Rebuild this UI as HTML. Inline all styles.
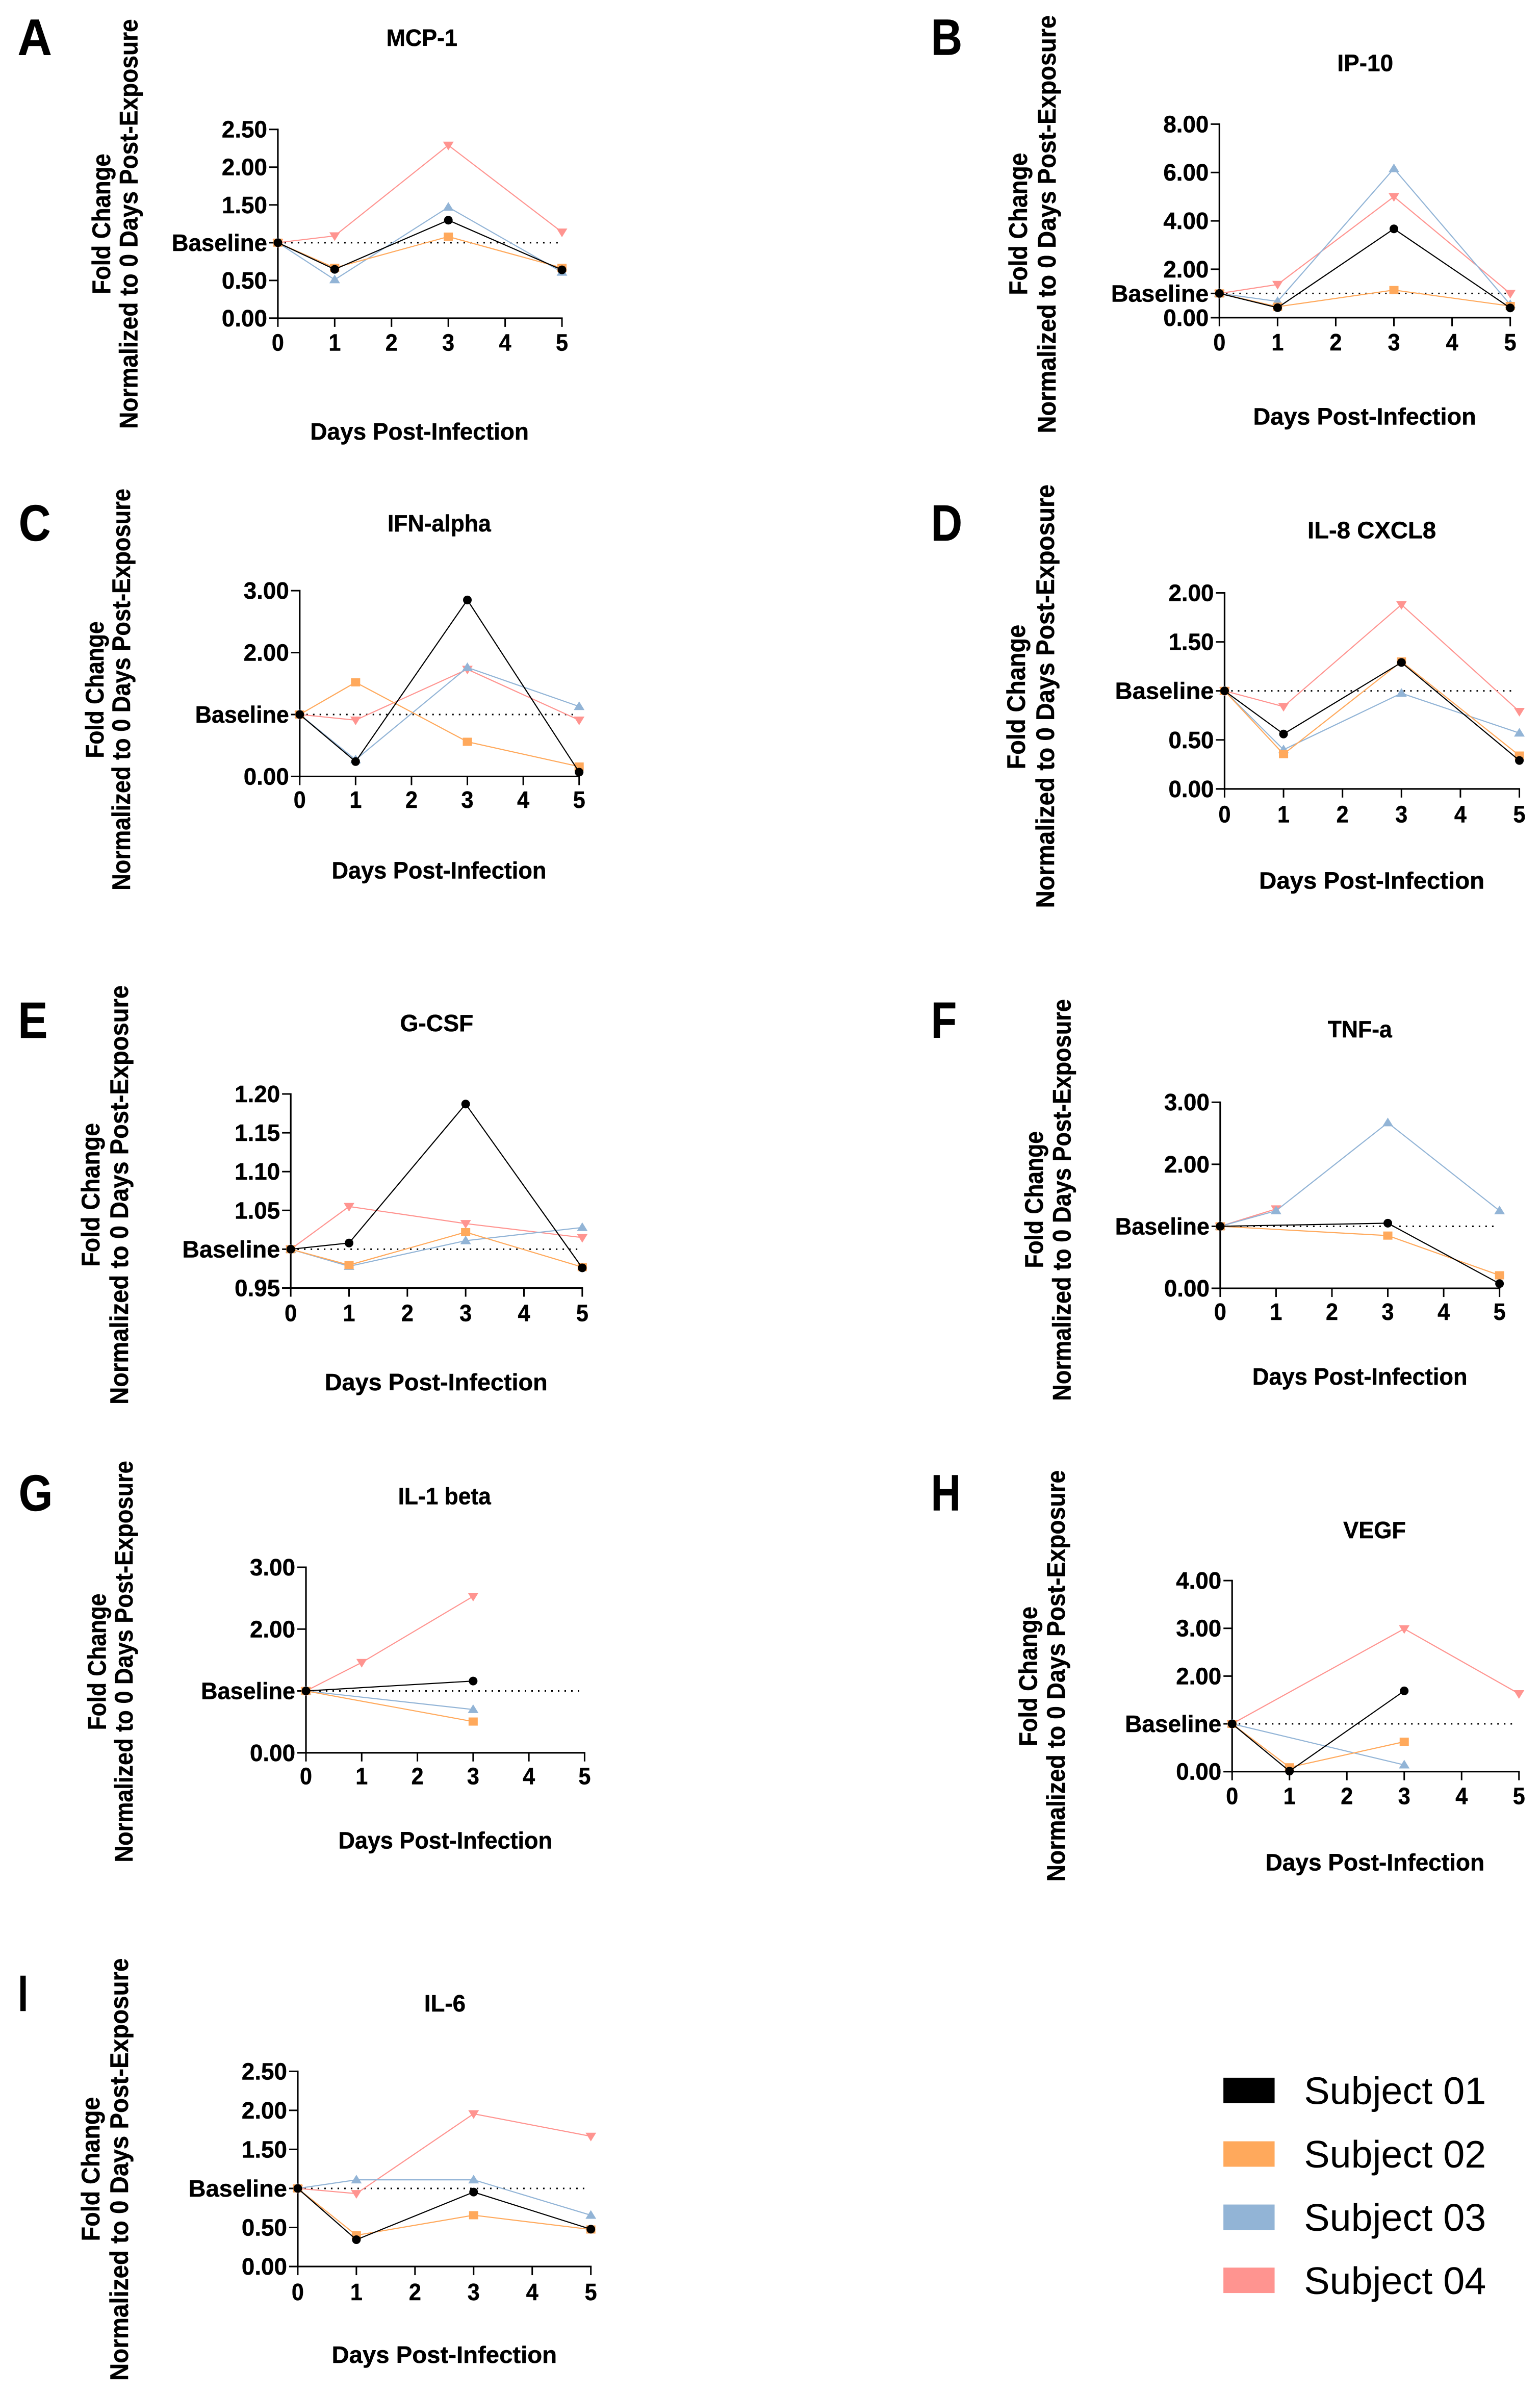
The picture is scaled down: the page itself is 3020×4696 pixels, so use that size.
<!DOCTYPE html>
<html lang="en">
<head>
<meta charset="utf-8">
<title>Fold change per cytokine by subject</title>
<style>
html,body{margin:0;padding:0;background:#fff;overflow:hidden;}
svg{display:block;}
text{font-family:"Liberation Sans",sans-serif;fill:#000;}
.b{font-weight:bold;stroke:#000;stroke-width:.5px;}
</style>
</head>
<body>
<svg id="figure" xmlns="http://www.w3.org/2000/svg" width="3020" height="4696" viewBox="0 0 3020 4696"></svg>
<script>
// ---------- shared categories ----------
const xTickLabels = [0, 1, 2, 3, 4, 5];
const measuredDays = [0, 1, 3, 5];
const subjectNames = ["Subject 01", "Subject 02", "Subject 03", "Subject 04"];
const baselineValue = 1;

// ---------- A: MCP-1 ----------
const mcp1YTicks = [0, 0.5, 1.5, 2, 2.5];
const mcp1Subject01 = [1, 0.647, 1.298, 0.64];
const mcp1Subject02 = [1, 0.667, 1.08, 0.667];
const mcp1Subject03 = [1, 0.51, 1.47, 0.61];
const mcp1Subject04 = [1, 1.09, 2.29, 1.14];

// ---------- B: IP-10 ----------
const ip10YTicks = [0, 2, 4, 6, 8];
const ip10Subject01 = [1, 0.41, 3.67, 0.40];
const ip10Subject02 = [1, 0.45, 1.14, 0.48];
const ip10Subject03 = [1, 0.67, 6.16, 0.54];
const ip10Subject04 = [1, 1.37, 5.0, 1.0];

// ---------- C: IFN-alpha ----------
const ifnYTicks = [0, 2, 3];
const ifnSubject01 = [1, 0.24, 2.85, 0.07];
const ifnSubject02 = [1, 1.52, 0.56, 0.16];
const ifnSubject03 = [1, 0.27, 1.76, 1.13];
const ifnSubject04 = [1, 0.91, 1.73, 0.91];

// ---------- D: IL-8 CXCL8 ----------
const il8YTicks = [0, 0.5, 1.5, 2];
const il8Subject01 = [1, 0.56, 1.29, 0.29];
const il8Subject02 = [1, 0.355, 1.30, 0.34];
const il8Subject03 = [1, 0.40, 0.976, 0.57];
const il8Subject04 = [1, 0.84, 1.88, 0.79];

// ---------- E: G-CSF ----------
const gcsfYTicks = [0.95, 1.05, 1.1, 1.15, 1.2];
const gcsfSubject01 = [1, 1.008, 1.187, 0.976];
const gcsfSubject02 = [1, 0.9796, 1.022, 0.977];
const gcsfSubject03 = [1, 0.978, 1.011, 1.028];
const gcsfSubject04 = [1, 1.055, 1.033, 1.015];

// ---------- F: TNF-a ----------
const tnfYTicks = [0, 2, 3];
const tnfSubject01 = [1, null, 1.05, 0.076];
const tnfSubject02 = [1, null, 0.85, 0.21];
const tnfSubject03 = [1, 1.25, 2.67, 1.25];
const tnfSubject04 = [1, 1.28, null, null];

// ---------- G: IL-1 beta ----------
const il1YTicks = [0, 2, 3];
const il1Subject01 = [1, null, 1.16, null];
const il1Subject02 = [1, null, 0.505, null];
const il1Subject03 = [1, null, 0.70, null];
const il1Subject04 = [1, 1.46, 2.53, null];

// ---------- H: VEGF ----------
const vegfYTicks = [0, 2, 3, 4];
const vegfSubject01 = [1, 0.01, 1.69, null];
const vegfSubject02 = [1, 0.09, 0.625, null];
const vegfSubject03 = [1, null, 0.14, null];
const vegfSubject04 = [1, null, 2.99, 1.63];

// ---------- I: IL-6 ----------
const il6YTicks = [0, 0.5, 1.5, 2, 2.5];
const il6Subject01 = [1, 0.343, 0.953, 0.478];
const il6Subject02 = [1, 0.40, 0.657, 0.474];
const il6Subject03 = [1, 1.11, 1.11, 0.657];
const il6Subject04 = [1, 0.934, 1.956, 1.668];

// ---------- styling & layout (separate from data) ----------
const subjectColors = ["#000000", "#FFA95C", "#92B4D6", "#FF9490"];
const subjectShapes = ["circle", "square", "triangle-up", "triangle-down"];
const drawOrder = [3, 2, 1, 0];

const KX1 = 1200 / 1568, KX2 = 1220 / 1568;
const panels = [
 {id:"a",letter:"A",title:"MCP-1",ox:0,oy:0,kx:KX1,ky:900/1568,x0:712,x5:1440,yT:442,y0:1087,vMin:0,vMax:2.5,ticks:mcp1YTicks,
  series:[mcp1Subject01,mcp1Subject02,mcp1Subject03,mcp1Subject04],
  tB:[990,1172,157],xB:[795,1355,1502],num:1198,lt:[45,133,187],fc:[282,525,1005],nm:[352,65,1465],bl:440},
 {id:"b",letter:"B",title:"IP-10",ox:1800,oy:0,kx:KX2,ky:900/1568,x0:760,x5:1493,yT:424,y0:1085,vMin:0,vMax:8,ticks:ip10YTicks,
  series:[ip10Subject01,ip10Subject02,ip10Subject03,ip10Subject04],
  tB:[1057,1198,243],xB:[845,1407,1450],num:1197,lt:[33,112,187],fc:[275,522,1008],nm:[347,52,1480],bl:487},
 {id:"c",letter:"C",title:"IFN-alpha",ox:0,oy:950,kx:KX1,ky:850/1568,x0:768,x5:1484,yT:384,y0:1056,vMin:0,vMax:3,ticks:ifnYTicks,
  series:[ifnSubject01,ifnSubject02,ifnSubject03,ifnSubject04],
  tB:[993,1258,170],xB:[850,1400,1425],num:1170,lt:[48,130,203],fc:[265,495,990],nm:[333,15,1468],bl:500},
 {id:"d",letter:"D",title:"IL-8 CXCL8",ox:1800,oy:950,kx:KX2,ky:850/1568,x0:773,x5:1516,yT:392,y0:1101,vMin:0,vMax:2,ticks:il8YTicks,
  series:[il8Subject01,il8Subject02,il8Subject03,il8Subject04],
  tB:[982,1306,195],xB:[860,1428,1462],num:1222,lt:[33,112,203],fc:[270,507,1030],nm:[343,0,1532],bl:497},
 {id:"e",letter:"E",title:"G-CSF",ox:0,oy:1920,kx:KX1,ky:850/1568,x0:745,x5:1492,yT:415,y0:1117,vMin:0.95,vMax:1.2,ticks:gcsfYTicks,
  series:[gcsfSubject01,gcsfSubject02,gcsfSubject03,gcsfSubject04],
  tB:[1025,1213,188],xB:[832,1403,1487],num:1237,lt:[46,122,212],fc:[255,520,1040],nm:[328,22,1538],bl:467},
 {id:"f",letter:"F",title:"TNF-a",ox:1800,oy:1920,kx:KX2,ky:850/1568,x0:762,x5:1466,yT:445,y0:1118,vMin:0,vMax:3,ticks:tnfYTicks,
  series:[tnfSubject01,tnfSubject02,tnfSubject03,tnfSubject04],
  tB:[1033,1195,210],xB:[843,1385,1467],num:1232,lt:[33,98,212],fc:[315,550,1045],nm:[385,72,1525],bl:497},
 {id:"g",letter:"G",title:"IL-1 beta",ox:0,oy:2860,kx:KX1,ky:850/1568,x0:784,x5:1498,yT:393,y0:1064,vMin:0,vMax:3,ticks:il1YTicks,
  series:[il1Subject01,il1Subject02,il1Subject03,il1Subject04],
  tB:[1020,1258,165],xB:[867,1415,1410],num:1178,lt:[48,135,188],fc:[271,488,982],nm:[340,8,1460],bl:515},
 {id:"h",letter:"H",title:"VEGF",ox:1800,oy:2860,kx:KX2,ky:850/1568,x0:792,x5:1515,yT:441,y0:1132,vMin:0,vMax:4,ticks:vegfYTicks,
  series:[vegfSubject01,vegfSubject02,vegfSubject03,vegfSubject04],
  tB:[1072,1230,288],xB:[876,1428,1490],num:1250,lt:[33,108,187],fc:[300,535,1040],nm:[370,42,1530],bl:522},
 {id:"i",letter:"I",title:"IL-6",ox:0,oy:3820,kx:KX1,ky:876/1568,x0:763,x5:1514,yT:432,y0:1117,vMin:0,vMax:2.5,ticks:il6YTicks,
  series:[il6Subject01,il6Subject02,il6Subject03,il6Subject04],
  tB:[1087,1193,222],xB:[850,1427,1455],num:1235,lt:[46,72,220],fc:[255,522,1028],nm:[328,35,1518],bl:483}
];

const SVGNS = "http://www.w3.org/2000/svg";
const root = document.getElementById("figure");

function make(tag, parent, name, attrs) {
  const el = document.createElementNS(SVGNS, tag);
  
  
  for (const key in attrs) el.setAttribute(key, attrs[key]);
  parent.appendChild(el);
  return el;
}

function label(parent, name, str, x, y, size, width, bold, rotate) {
  const attrs = {x: x, y: y, "font-size": size, textLength: width, lengthAdjust: "spacingAndGlyphs"};
  if (bold) attrs["class"] = "b";
  if (rotate) attrs.transform = "rotate(-90 " + x + " " + y + ")";
  const t = make("text", parent, name, attrs);
  t.textContent = str;
  return t;
}

function marker(parent, name, shape, cx, cy, color) {
  if (shape === "circle") {
    return make("ellipse", parent, name, {cx: cx, cy: cy, rx: 8.5, ry: 8.5, fill: color});
  }
  if (shape === "square") {
    return make("rect", parent, name, {x: cx - 9, y: cy - 8, width: 18, height: 16, fill: color});
  }
  const d = shape === "triangle-up" ? 1 : -1;
  const pts = [[cx - 10.5, cy + d * 7], [cx + 10.5, cy + d * 7], [cx, cy - d * 10]];
  return make("polygon", parent, name, {points: pts.map(p => p.join(",")).join(" "), fill: color});
}

function drawPanel(p) {
  const g = make("g", root, "panel-" + p.id, {});
  const px = v => p.ox + v * p.kx;
  const py = v => p.oy + v * p.ky;
  const xScale = d => px(p.x0) + (d - xTickLabels[0]) / (xTickLabels[5] - xTickLabels[0]) * (p.x5 - p.x0) * p.kx;
  const yScale = v => py(p.y0) - (v - p.vMin) / (p.vMax - p.vMin) * (p.y0 - p.yT) * p.ky;

  // panel letter
  label(g, "panel-letter", p.letter, px(p.lt[0]), py(p.lt[2]), 100, (p.lt[1] - p.lt[0]) * p.kx, true, false);

  // titles
  label(g, "chart-title", p.title, px(p.tB[0]), py(p.tB[2]), 46, (p.tB[1] - p.tB[0]) * p.kx, true, false);
  label(g, "x-axis-title", "Days Post-Infection", px(p.xB[0]), py(p.xB[2]), 46, (p.xB[1] - p.xB[0]) * p.kx, true, false);
  label(g, "y-axis-title-line-1", "Fold Change", px(p.fc[0]), py(p.fc[2]), 50, (p.fc[2] - p.fc[1]) * p.ky, true, true);
  label(g, "y-axis-title-line-2", "Normalized to 0 Days Post-Exposure", px(p.nm[0]), py(p.nm[2]), 50, (p.nm[2] - p.nm[1]) * p.ky, true, true);

  // baseline reference line
  make("line", g, "baseline-dotted-line", {x1: xScale(0), x2: xScale(5) - 10 * p.kx, y1: yScale(baselineValue), y2: yScale(baselineValue),
    stroke: "#000", "stroke-width": 3, "stroke-dasharray": "3 10"});

  // axes
  make("line", g, "y-axis", {x1: px(p.x0), x2: px(p.x0), y1: yScale(p.vMax) - 1.5, y2: py(p.y0) + 2, stroke: "#000", "stroke-width": 3.2});
  make("line", g, "x-axis", {x1: px(p.x0) - 17, x2: px(p.x5) + 1.5, y1: py(p.y0), y2: py(p.y0), stroke: "#000", "stroke-width": 3.2});

  // y ticks and labels
  const yTickRight = px(p.x0);
  p.ticks.forEach(v => {
    const y = yScale(v);
    make("line", g, "y-tick", {x1: yTickRight - 17, x2: yTickRight, y1: y, y2: y, stroke: "#000", "stroke-width": 3});
    const w = 89;
    label(g, "y-tick-label", v.toFixed(2), yTickRight - 21 - w, y + 16, 46, w, true, false);
  });
  const by = yScale(baselineValue);
  make("line", g, "y-tick-baseline", {x1: yTickRight - 17, x2: yTickRight, y1: by, y2: by, stroke: "#000", "stroke-width": 3});
  label(g, "baseline-label", "Baseline", px(p.bl), by + 16, 46, yTickRight - 21 - px(p.bl), true, false);

  // x ticks and labels
  xTickLabels.forEach(d => {
    const x = xScale(d);
    make("line", g, "x-tick", {x1: x, x2: x, y1: py(p.y0), y2: py(p.y0) + 17, stroke: "#000", "stroke-width": 3});
    label(g, "x-tick-label", String(d), x - 12, py(p.num), 46, 24, true, false);
  });

  // series, drawn back-to-front
  drawOrder.forEach(s => {
    const values = p.series[s];
    const sg = make("g", g, "series-" + subjectNames[s].toLowerCase().replace(" ", "-"), {});
    const pts = [];
    values.forEach((v, i) => {
      if (v !== null) pts.push([xScale(measuredDays[i]), yScale(v)]);
    });
    make("polyline", sg, "series-line", {points: pts.map(q => q.join(",")).join(" "), fill: "none", stroke: subjectColors[s], "stroke-width": 2.2});
    pts.forEach(q => {
      marker(sg, "data-point", subjectShapes[s], q[0], q[1], subjectColors[s]);
    });
  });
}

panels.forEach(drawPanel);

// ---------- legend ----------
const LKX = 670 / 1568;
const LKY = 500 / 1504;
const legend = make("g", root, "legend", {});
const swatchTops = [132, 507, 880, 1252];
const textBases = [288, 662, 1035, 1407];
subjectNames.forEach((nm, i) => {
  const row = make("g", legend, "legend-entry", {});
  make("rect", row, "legend-swatch", {x: 2350 + 115 * LKX, y: 4030 + swatchTops[i] * LKY, width: 235 * LKX, height: 150 * LKY, fill: subjectColors[i]});
  label(row, "legend-label", nm, 2350 + 485 * LKX, 4030 + textBases[i] * LKY, 75, 357, false, false);
});
</script>
</body>
</html>
